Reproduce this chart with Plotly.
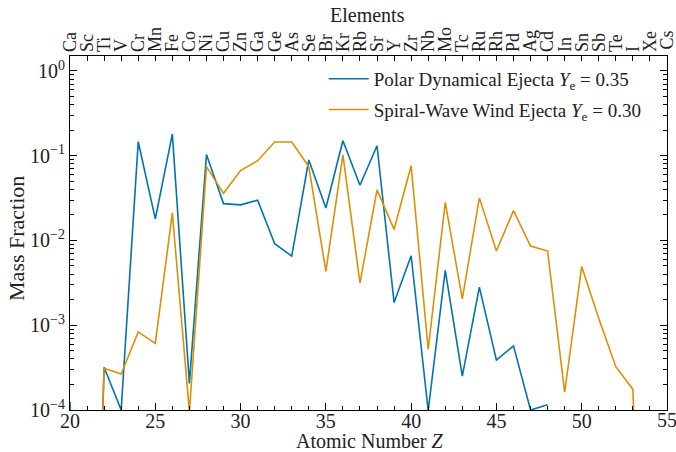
import plotly.graph_objects as go
import numpy as np

Z = list(range(20, 56))
elements = ["Ca", "Sc", "Ti", "V", "Cr", "Mn", "Fe", "Co", "Ni", "Cu", "Zn", "Ga",
            "Ge", "As", "Se", "Br", "Kr", "Rb", "Sr", "Y", "Zr", "Nb", "Mo", "Tc",
            "Ru", "Rh", "Pd", "Ag", "Cd", "In", "Sn", "Sb", "Te", "I", "Xe", "Cs"]

# Polar dynamical ejecta, Ye = 0.35 (Z = 20 .. 55)
polar = [1.25e-4, 1e-10, 3.2e-4, 1.0e-4, 0.146, 0.018, 0.18, 2.06e-4, 0.103, 0.0272,
         0.0263, 0.0298, 0.00914, 0.00654, 0.089, 0.0242, 0.15, 0.0448, 0.131, 0.00185,
         0.0066, 9.8e-5, 0.00444, 2.51e-4, 0.00282, 3.88e-4, 5.71e-4, 1.0e-4, 1.15e-4,
         None, None, None, None, None, None, None]

# Spiral-wave wind ejecta, Ye = 0.30 (Z = 20 .. 55)
spiral = [None, 1e-10, 3.1e-4, 2.65e-4, 8.35e-4, 6.1e-4, 0.0212, 9.5e-5, 0.0742, 0.036,
          0.0667, 0.0873, 0.145, 0.145, 0.0742, 0.00432, 0.102, 0.00315, 0.0395, 0.0135,
          0.0762, 5.17e-4, 0.0282, 0.00204, 0.0318, 0.0075, 0.0225, 0.00857, 0.0075,
          1.62e-4, 0.00494, 0.0012, 3.24e-4, 1.75e-4, 1e-10, None]

x_ticks = list(range(20, 56, 5))

BLUE = "#0173B2"
ORANGE = "#DE8F05"
FONT = "Liberation Serif"
FS = 20
TXT = "#222"

fig = go.Figure()
fig.add_trace(go.Scatter(x=Z, y=polar, mode="lines", line=dict(color=BLUE, width=1.6),
                         name="Polar Dynamical Ejecta <i>Y</i><sub>e</sub> = 0.35",
                         legendgroup="a", connectgaps=False))
fig.add_trace(go.Scatter(x=Z, y=spiral, mode="lines", line=dict(color=ORANGE, width=1.6),
                         name="Spiral-Wave Wind Ejecta <i>Y</i><sub>e</sub> = 0.30",
                         legendgroup="b", connectgaps=False))
# invisible trace to carry the top (elements) axis
fig.add_trace(go.Scatter(x=Z, y=polar, xaxis="x2", mode="lines", opacity=0,
                         showlegend=False, hoverinfo="skip"))

decades = [1e-4, 1e-3, 1e-2, 1e-1, 1e0]
dec_text = ["10<sup>\u22124</sup>", "10<sup>\u22123</sup>", "10<sup>\u22122</sup>",
            "10<sup>\u22121</sup>", "10<sup>0</sup>"]
minor_y = [m * d for d in decades[:-1] for m in range(2, 10)]

fig.update_layout(
    width=676, height=452,
    margin=dict(l=70, r=9, t=56, b=42),
    paper_bgcolor="white", plot_bgcolor="white",
    font=dict(family=FONT, size=FS, color=TXT),
    showlegend=True,
    legend=dict(x=0.966, y=0.989, xanchor="right", yanchor="top",
                bgcolor="rgba(0,0,0,0)", font=dict(size=19, family=FONT),
                itemwidth=40, tracegroupgap=3, traceorder="grouped"),
    xaxis=dict(range=[20, 55], tickmode="array", tickvals=x_ticks,
               ticktext=[str(v) for v in x_ticks[:-1]] + [""],
               ticks="inside", ticklen=7, tickwidth=1, tickcolor="black",
               showline=True, linecolor="black", linewidth=1.2, mirror=True,
               showgrid=False, zeroline=False, automargin=False,
               ticklabelstandoff=-7,
               minor=dict(tickvals=Z, ticks="inside", ticklen=3.5, tickcolor="black"),
               tickfont=dict(size=FS)),
    xaxis2=dict(range=[20, 55], overlaying="x", side="top", anchor="y",
                tickmode="array", tickvals=Z, ticktext=elements[:-1] + [""], tickangle=-90,
                ticks="inside", ticklen=5, tickcolor="black", showgrid=False,
                showline=False, zeroline=False, automargin=False,
                ticklabelstandoff=3, tickfont=dict(size=18)),
    yaxis=dict(type="log", range=[-4, np.log10(1.5)], tickmode="array",
               tickvals=decades, ticktext=dec_text,
               ticks="inside", ticklen=7, tickcolor="black",
               showline=True, linecolor="black", linewidth=1.2, mirror="ticks",
               showgrid=False, zeroline=False, automargin=False,
               minor=dict(tickvals=minor_y, ticks="inside", ticklen=3.5, tickcolor="black"),
               tickfont=dict(size=FS)),
    annotations=[
        dict(text="Atomic Number <i>Z</i>", xref="paper", yref="paper", x=0.5025, y=-0.087,
             xanchor="center", yanchor="middle", showarrow=False, font=dict(size=FS)),
        dict(text="Mass Fraction", xref="paper", yref="paper", x=-0.0888, y=0.486,
             xanchor="center", yanchor="middle", textangle=-90, showarrow=False,
             font=dict(size=22)),
        dict(text="Elements", xref="paper", yref="paper", x=0.4975, y=1.1158,
             xanchor="center", yanchor="middle", showarrow=False, font=dict(size=FS)),
        # last tick labels at the right edge (plotly drops them otherwise)
        dict(text=str(x_ticks[-1]), xref="x", yref="paper", x=x_ticks[-1], y=-0.029,
             xanchor="center", yanchor="middle", showarrow=False, font=dict(size=FS)),
        dict(text=elements[-1], xref="x", yref="paper", x=Z[-1], y=1.011,
             xanchor="center", yanchor="bottom", textangle=-90, showarrow=False,
             font=dict(size=18)),
    ],
)

fig.write_html("out.html", config={"displayModeBar": False},
               post_script="document.body.style.margin='0';"
                           "document.body.style.overflow='hidden';")
